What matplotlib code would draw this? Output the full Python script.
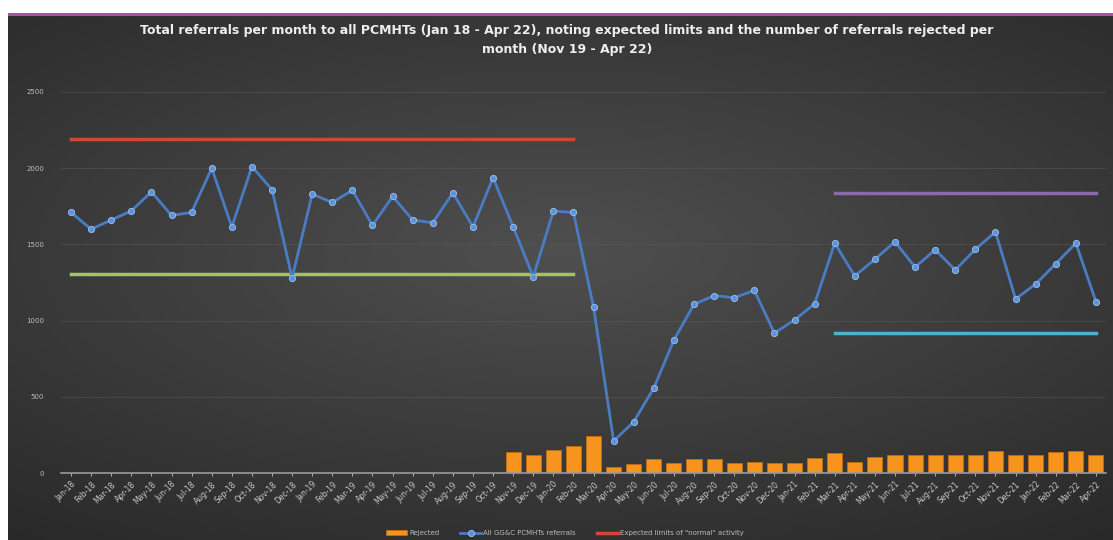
import numpy as np
import matplotlib.pyplot as plt
from matplotlib.patches import Rectangle

# months Jan-18 .. Apr-22
months = ['Jan-18', 'Feb-18', 'Mar-18', 'Apr-18', 'May-18', 'Jun-18', 'Jul-18', 'Aug-18', 'Sep-18', 'Oct-18', 'Nov-18', 'Dec-18',
          'Jan-19', 'Feb-19', 'Mar-19', 'Apr-19', 'May-19', 'Jun-19', 'Jul-19', 'Aug-19', 'Sep-19', 'Oct-19', 'Nov-19', 'Dec-19',
          'Jan-20', 'Feb-20', 'Mar-20', 'Apr-20', 'May-20', 'Jun-20', 'Jul-20', 'Aug-20', 'Sep-20', 'Oct-20', 'Nov-20', 'Dec-20',
          'Jan-21', 'Feb-21', 'Mar-21', 'Apr-21', 'May-21', 'Jun-21', 'Jul-21', 'Aug-21', 'Sep-21', 'Oct-21', 'Nov-21', 'Dec-21',
          'Jan-22', 'Feb-22', 'Mar-22', 'Apr-22']

referrals = [1710, 1600, 1660, 1720, 1845, 1690, 1710, 2000, 1615, 2010, 1860, 1280,
             1830, 1775, 1855, 1625, 1815, 1660, 1642, 1838, 1615, 1937, 1615, 1288,
             1718, 1710, 1088, 210, 336, 558, 873, 1107, 1164, 1150, 1198, 918,
             1004, 1110, 1508, 1293, 1402, 1518, 1350, 1465, 1332, 1468, 1582, 1142,
             1240, 1373, 1508, 1124]

# rejected referrals recorded from Nov-19
rejected = [np.nan] * 22 + [141, 120, 148, 174, 246, 38, 58, 94, 64, 90, 90, 63,
                            72, 64, 64, 97, 130, 74, 105, 120, 120, 115, 115, 120,
                            145, 115, 117, 140, 146, 120]

# expected limits: pre-covid (Jan-18 .. Feb-20) and recent (Mar-21 .. Apr-22)
pre_upper, pre_lower = 2190, 1308
post_upper, post_lower = 1840, 918
pre_start, pre_end = 'Jan-18', 'Feb-20'
post_start, post_end = 'Mar-21', 'Apr-22'

title = ('Total referrals per month to all PCMHTs (Jan 18 - Apr 22), noting expected limits and the number of referrals rejected per\n'
         'month (Nov 19 - Apr 22)')

W, H = 1113, 540
fig = plt.figure(figsize=(W / 100, H / 100), dpi=100)
fig.patch.set_facecolor('white')

# dark radial gradient background
bg = fig.add_axes([8 / W, 0, 1 - 8 / W, (H - 15) / H])
gx, gy = np.meshgrid(np.linspace(-1, 1, 400), np.linspace(-1, 1, 200))
r = np.sqrt((gx * 0.85) ** 2 + ((gy + 0.1) * 1.0) ** 2)
shade = 0.31 - 0.15 * np.clip(r, 0, 1.4) / 1.4
bg.imshow(np.dstack([shade, shade, shade]), aspect='auto', extent=[0, 1, 0, 1])
bg.axis('off')
fig.patches.append(Rectangle((8 / W, (H - 16) / H), 1, 2.5 / H, transform=fig.transFigure,
                             facecolor='#b04ab0', edgecolor='none'))

ax = fig.add_axes([61 / W, (H - 473) / H, 1045 / W, (473 - 92) / H])
ax.set_facecolor('none')
x = np.arange(len(months))

bars = ax.bar(x, rejected, width=0.75, color='#f7941e', edgecolor='#c8700f', linewidth=0.5,
              label='Rejected', zorder=2)
line, = ax.plot(x, referrals, color='#4a7cc4', lw=2, marker='o', ms=4.5, mfc='#5d93dc', mec='#9cc2f0',
                mew=0.6, label='All GG&C PCMHTs referrals', zorder=4)

i0, i1 = months.index(pre_start), months.index(pre_end)
j0, j1 = months.index(post_start), months.index(post_end)
red, = ax.plot([i0, i1], [pre_upper, pre_upper], color='#d2463a', lw=2.5,
               label='Expected limits of "normal" activity', zorder=3)
ax.plot([i0, i1], [pre_lower, pre_lower], color='#a5c45c', lw=2.5, zorder=3)
ax.plot([j0, j1], [post_upper, post_upper], color='#8a6aad', lw=2.5, zorder=3)
ax.plot([j0, j1], [post_lower, post_lower], color='#4cb3cc', lw=2.5, zorder=3)

ax.set_xlim(-0.5, len(months) - 0.5)
ax.set_ylim(0, 2500)
ax.set_yticks(range(0, 2501, 500))
ax.set_xticks(x)
ax.set_xticklabels(months, rotation=45, ha='right', rotation_mode='anchor')
ax.tick_params(axis='x', colors='#c8c8c8', labelsize=5.5, length=2, width=0.6, pad=3)
ax.tick_params(axis='y', colors='#bdbdbd', labelsize=5, length=0, pad=12)
ax.grid(axis='y', color='#5a5a5a', lw=0.6, alpha=0.6, zorder=0)
for s in ['top', 'right', 'left']:
    ax.spines[s].set_visible(False)
ax.spines['bottom'].set_color('#9a9a9a')
ax.spines['bottom'].set_linewidth(1.2)

fig.text(567 / W, (H - 40) / H, title, ha='center', va='center', color='#eeeeee',
         fontsize=9, fontweight='bold', linespacing=1.6)

fig.legend(handles=[bars, line, red], loc='center', bbox_to_anchor=(565 / W, (H - 533) / H), ncol=3,
           frameon=False, fontsize=5, labelcolor='#bbbbbb', handlelength=3, columnspacing=3,
           handletextpad=0.3)

fig.savefig('out.png', dpi=100, facecolor=fig.get_facecolor())
